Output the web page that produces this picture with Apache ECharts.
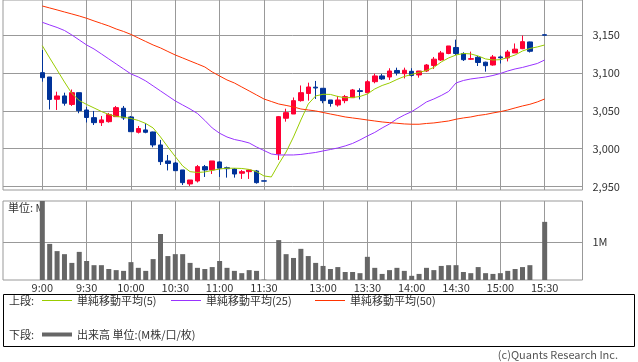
<!DOCTYPE html>
<html><head><meta charset="utf-8">
<script src="https://cdn.jsdelivr.net/npm/echarts@6/dist/echarts.min.js"></script>
<style>html,body{margin:0;padding:0;background:#fff;}#c{width:638px;height:362px;}</style>
</head><body><div id="c"></div>
<script>
const times = ['9:00','9:05','9:10','9:15','9:20','9:25','9:30','9:35','9:40','9:45','9:50','9:55','10:00','10:05','10:10','10:15','10:20','10:25','10:30','10:35','10:40','10:45','10:50','10:55','11:00','11:05','11:10','11:15','11:20','11:25','11:30','','12:30','12:35','12:40','12:45','12:50','12:55','13:00','13:05','13:10','13:15','13:20','13:25','13:30','13:35','13:40','13:45','13:50','13:55','14:00','14:05','14:10','14:15','14:20','14:25','14:30','14:35','14:40','14:45','14:50','14:55','15:00','15:05','15:10','15:15','15:20','15:25','15:30'];
const timeLabels = ['9:00','9:30','10:00','10:30','11:00','11:30','13:00','13:30','14:00','14:30','15:00','15:30'];
const priceTicks = [2950,3000,3050,3100,3150];
const volTicks = [1];
const open = [3100.3,3094.6,3065.2,3069.6,3058.4,3073.9,3051.1,3041.0,3034.4,3035.7,3042.3,3053.4,3041.9,3021.7,3024.8,3022.1,3005.0,2983.9,2981.2,2972.0,2953.6,2957.5,2976.4,2972.0,2982.6,2975.0,2973.3,2967.7,2969.8,2970.7,2957.7,null,2993.1,3040.2,3045.8,3063.4,3072.9,3081.2,3079.7,3064.3,3057.7,3063.4,3067.3,3076.6,3073.9,3088.4,3096.0,3094.6,3103.2,3099.0,3102.1,3097.3,3102.5,3109.8,3117.0,3125.6,3133.5,3125.6,3118.0,3120.6,3114.1,3110.4,3121.0,3119.7,3126.3,3131.9,3140.8,null,3150.3];
const close = [3093.7,3065.0,3069.6,3060.0,3073.9,3050.2,3041.2,3034.4,3038.0,3045.2,3054.2,3040.6,3022.5,3026.7,3021.7,3005.0,2983.0,2980.6,2971.1,2955.3,2958.8,2976.4,2972.0,2983.9,2974.3,2973.7,2966.7,2969.8,2972.0,2955.3,2957.3,null,3042.3,3047.6,3063.4,3073.9,3081.4,3080.1,3063.4,3059.7,3064.3,3068.7,3077.5,3075.5,3088.4,3096.0,3092.0,3102.5,3099.9,3103.5,3096.6,3102.5,3110.4,3118.1,3126.3,3135.5,3125.6,3117.4,3118.8,3113.7,3109.5,3121.0,3119.9,3127.6,3131.3,3141.2,3128.5,null,3149.7];
const low = [3088.4,3051.8,3051.1,3056.8,3056.4,3046.8,3034.6,3031.3,3030.0,3034.4,3042.3,3038.0,3022.5,3020.1,3020.4,3001.9,2978.6,2971.4,2971.1,2952.2,2950.9,2955.5,2962.8,2966.7,2962.8,2961.9,2961.9,2960.2,2960.2,2954.0,2957.3,null,2985.2,3035.7,3045.8,3062.1,3063.4,3065.6,3060.0,3055.5,3055.5,3060.0,3067.3,3065.0,3073.5,3086.3,3090.7,3090.7,3096.6,3092.7,3095.0,3093.7,3101.2,3105.2,3115.7,3124.6,3123.6,3115.7,3117.0,3109.1,3101.6,3109.5,3112.4,3115.1,3126.3,3131.3,3126.9,null,3149.7];
const high = [3130.2,3094.6,3075.2,3073.9,3078.1,3073.9,3055.1,3049.8,3043.2,3047.2,3056.4,3056.4,3043.2,3030.0,3033.6,3022.5,3011.6,2991.8,2982.6,2972.0,2958.8,2978.6,2978.6,2983.9,2983.5,2976.4,2974.3,2972.0,2972.9,2972.0,2957.7,null,3043.2,3052.8,3067.6,3083.4,3087.1,3089.4,3079.7,3064.3,3069.6,3070.9,3078.8,3079.7,3090.7,3099.0,3098.6,3106.1,3106.9,3106.9,3106.1,3102.5,3111.7,3121.0,3128.9,3135.5,3143.8,3127.2,3128.0,3122.3,3114.8,3123.6,3123.0,3130.2,3138.8,3149.3,3141.2,null,3150.3];
const volume = [2.08,0.95,0.76,0.68,0.45,0.74,0.50,0.39,0.39,0.29,0.26,0.24,0.47,0.32,0.24,0.55,1.21,0.63,0.68,0.68,0.45,0.32,0.29,0.34,0.50,0.32,0.24,0.18,0.26,0.24,0.01,null,1.05,0.68,0.58,0.82,0.63,0.45,0.37,0.29,0.34,0.21,0.21,0.18,0.61,0.32,0.16,0.26,0.32,0.24,0.11,0.16,0.32,0.26,0.37,0.39,0.39,0.21,0.18,0.34,0.18,0.16,0.18,0.24,0.29,0.34,0.39,null,1.53];
const ma5 = [3135.9,3119.7,3103.9,3088.0,3072.9,3063.6,3058.4,3053.8,3049.1,3045.2,3042.6,3041.5,3039.9,3037.3,3033.3,3027.4,3015.5,3002.3,2989.6,2977.3,2969.8,2968.7,2969.4,2971.4,2973.3,2974.3,2974.3,2974.0,2972.7,2969.8,2964.1,2962.8,2979.9,2995.7,3015.5,3037.9,3059.0,3069.6,3071.8,3071.6,3068.9,3067.2,3067.6,3068.9,3072.2,3078.8,3083.4,3086.7,3091.3,3095.3,3097.9,3100.6,3103.2,3107.2,3114.4,3119.7,3123.6,3125.6,3125.0,3122.3,3118.4,3117.0,3117.4,3120.3,3123.6,3128.9,3132.2,3134.2,3136.8];
const ma25 = [3166.7,3163.2,3159.9,3155.9,3150.0,3143.4,3136.8,3131.5,3125.0,3118.4,3111.8,3105.2,3098.6,3094.6,3089.4,3082.8,3076.2,3069.6,3063.0,3057.7,3052.4,3046.5,3037.3,3027.4,3020.4,3015.5,3012.2,3010.2,3007.6,3002.3,2997.7,2993.1,2991.8,2991.8,2991.8,2992.5,2993.8,2995.1,2997.1,2999.0,3001.0,3003.7,3007.0,3011.6,3016.8,3021.5,3027.4,3032.7,3039.3,3044.5,3048.9,3055.1,3061.7,3065.6,3070.2,3075.5,3086.7,3090.0,3092.0,3093.3,3094.6,3096.6,3099.2,3102.5,3105.2,3107.2,3109.8,3112.4,3117.0];
const ma50 = [3188.2,3185.6,3183.0,3180.3,3177.7,3175.0,3172.0,3168.5,3165.2,3161.9,3157.9,3154.6,3150.7,3146.0,3141.4,3136.8,3132.9,3128.2,3123.6,3119.7,3115.7,3111.8,3107.8,3101.2,3095.9,3090.7,3086.7,3081.4,3076.2,3070.9,3065.6,3062.3,3059.0,3057.1,3055.1,3052.4,3051.1,3049.8,3047.8,3045.8,3043.9,3041.9,3040.6,3039.3,3037.9,3036.6,3035.3,3034.4,3033.6,3032.7,3032.3,3032.3,3033.3,3034.0,3035.3,3036.6,3038.9,3040.6,3041.9,3043.9,3045.2,3047.2,3048.9,3051.1,3053.8,3056.4,3058.6,3061.7,3065.6];

const labelIdx = timeLabels.map(t => times.indexOf(t));
const candles = [], vols = [];
times.forEach((t, i) => {
  if (open[i] != null) candles.push([i, open[i], close[i], low[i], high[i]]);
  if (volume[i] != null) vols.push([i, volume[i]]);
});
const pair = arr => arr.map((v, i) => [i, v]);

const FONT = '"Noto Sans CJK JP", "Noto Sans", sans-serif';
const GRID = '#999';
const RED = '#ff0033', BLUE = '#003399';

const xBase = {
  type: 'value', min: -5.32, max: 73.12,
  axisLine: { show: false },
  axisTick: { show: false, customValues: labelIdx },
  splitLine: { show: true, lineStyle: { color: GRID, width: 1 } }
};

const chart = echarts.init(document.getElementById('c'), null, { renderer: 'canvas' });
chart.setOption({
  animation: false,
  textStyle: { fontFamily: FONT },
  grid: [
    { left: 3, top: 0, width: 579.5, height: 190, show: true, borderColor: GRID, borderWidth: 1 },
    { left: 3, top: 201, width: 579.5, height: 79, show: true, borderColor: GRID, borderWidth: 1 }
  ],
  xAxis: [
    Object.assign({}, xBase, { gridIndex: 0, axisLabel: { show: false, customValues: labelIdx } }),
    Object.assign({}, xBase, { gridIndex: 1, axisLabel: { show: true, customValues: labelIdx, formatter: v => times[v], color: '#333', fontSize: 11, fontFamily: FONT, margin: 2 } })
  ],
  yAxis: [
    { type: 'value', gridIndex: 0, position: 'right', min: 2945.6, max: 3196.1,
      axisLine: { show: false },
      axisTick: { show: true, length: 7, customValues: priceTicks, lineStyle: { color: GRID } },
      axisLabel: { customValues: priceTicks, formatter: v => v.toLocaleString('en-US'), color: '#333', fontSize: 11, fontFamily: FONT, margin: 10 },
      splitLine: { show: true, lineStyle: { color: GRID } } },
    { type: 'value', gridIndex: 1, position: 'right', min: 0, max: 2.079,
      axisLine: { show: false },
      axisTick: { show: true, length: 5, customValues: volTicks, lineStyle: { color: GRID } },
      axisLabel: { customValues: volTicks, formatter: v => v + 'M', color: '#333', fontSize: 11, fontFamily: FONT, margin: 10 },
      splitLine: { show: true, lineStyle: { color: GRID } } }
  ],
  legend: [
    { data: ['単純移動平均(5)'], left: 42, top: 295, padding: 0, icon: 'rect', itemWidth: 30, itemHeight: 1, itemGap: 6, selectedMode: false, textStyle: { fontSize: 11, color: '#333', fontFamily: FONT } },
    { data: ['単純移動平均(25)'], left: 171, top: 295, padding: 0, icon: 'rect', itemWidth: 30, itemHeight: 1, selectedMode: false, textStyle: { fontSize: 11, color: '#333', fontFamily: FONT } },
    { data: ['単純移動平均(50)'], left: 315, top: 295, padding: 0, icon: 'rect', itemWidth: 30, itemHeight: 1, selectedMode: false, textStyle: { fontSize: 11, color: '#333', fontFamily: FONT } },
    { data: ['出来高 単位:(M株/口/枚)'], left: 42, top: 329, padding: 0, icon: 'rect', itemWidth: 30, itemHeight: 4, selectedMode: false, textStyle: { fontSize: 11, color: '#333', fontFamily: FONT } }
  ],
  graphic: [
    { type: 'rect', shape: { x: 3.5, y: 294.5, width: 631, height: 52 }, style: { fill: 'none', stroke: '#000', lineWidth: 1 }, silent: true },
    { type: 'text', left: 9, top: 295, style: { text: '上段:', font: '11px ' + FONT, fill: '#333' } },
    { type: 'text', left: 9, top: 329, style: { text: '下段:', font: '11px ' + FONT, fill: '#333' } },
    { type: 'text', left: 8, top: 202, style: { text: '単位: M', font: '11px ' + FONT, fill: '#333' } },
    { type: 'text', right: 20, top: 349, style: { text: '(c)Quants Research Inc.', font: '11px ' + FONT, fill: '#555' } }
  ],
  series: [
    { name: '株価', type: 'candlestick', xAxisIndex: 0, yAxisIndex: 0, data: candles, barWidth: 5, z: 2,
      itemStyle: { color: RED, color0: BLUE, borderColor: RED, borderColor0: BLUE, borderColorDoji: BLUE, borderWidth: 1 } },
    { name: '単純移動平均(5)', type: 'line', xAxisIndex: 0, yAxisIndex: 0, data: pair(ma5), showSymbol: false, symbol: 'none', z: 3,
      lineStyle: { color: '#99cc00', width: 1 }, itemStyle: { color: '#99cc00' } },
    { name: '単純移動平均(25)', type: 'line', xAxisIndex: 0, yAxisIndex: 0, data: pair(ma25), showSymbol: false, symbol: 'none', z: 3,
      lineStyle: { color: '#9933ff', width: 1 }, itemStyle: { color: '#9933ff' } },
    { name: '単純移動平均(50)', type: 'line', xAxisIndex: 0, yAxisIndex: 0, data: pair(ma50), showSymbol: false, symbol: 'none', z: 3,
      lineStyle: { color: '#ff3300', width: 1 }, itemStyle: { color: '#ff3300' } },
    { name: '出来高 単位:(M株/口/枚)', type: 'bar', xAxisIndex: 1, yAxisIndex: 1, data: vols, barWidth: 5,
      itemStyle: { color: '#666666' } }
  ]
});
</script></body></html>
